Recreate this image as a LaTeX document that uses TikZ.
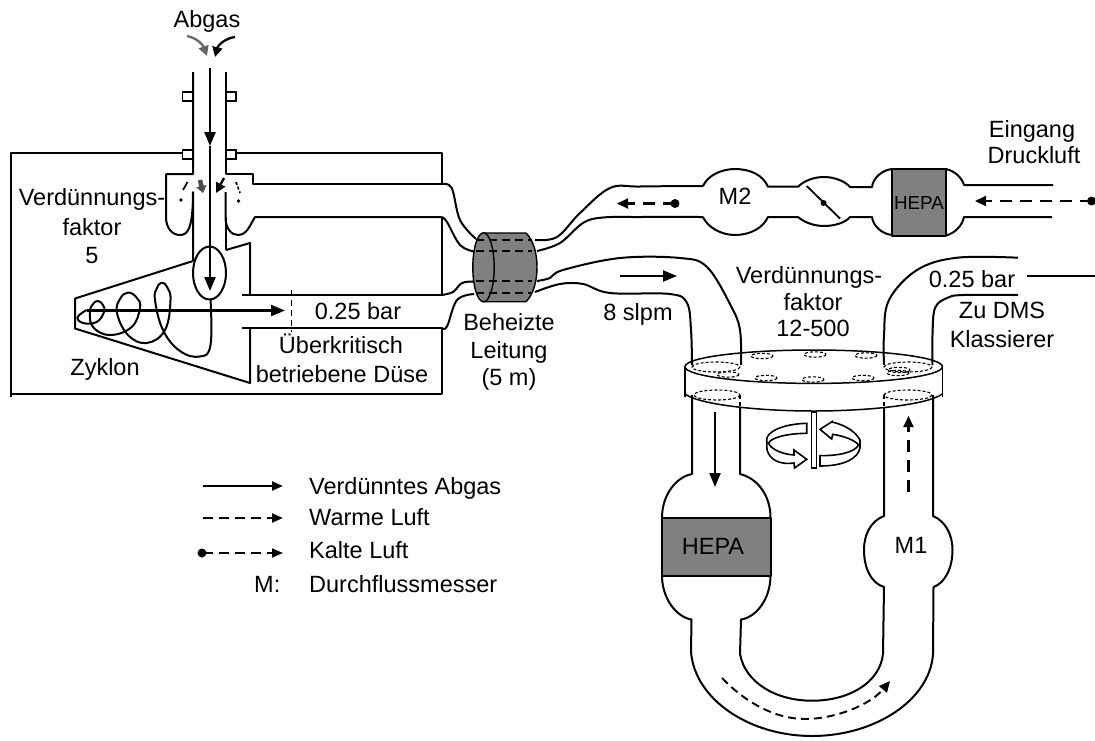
\documentclass[tikz,border=0pt]{standalone}
\usepackage{fontspec}
\setmainfont{Liberation Sans}
\usetikzlibrary{arrows.meta}
\definecolor{filtergrey}{HTML}{808080}
\tikzset{
  x=1pt,y=-1pt,
  pipe/.style={line width=2pt,line join=round},
  tipped/.style={line width=2.3pt,-{Triangle[length=14pt,width=11pt]}},
  dashedtip/.style={line width=2.2pt,dash pattern=on 12pt off 8pt,-{Triangle[length=11pt,width=10pt,sep=0pt]}},
  hole/.style={line width=1.1pt,dash pattern=on 3pt off 2pt},
  lab/.style={font=\fontsize{23.5}{26}\selectfont,inner sep=0pt,anchor=base,text=black},
  dotend/.style={fill=black,circle,inner sep=0pt,minimum size=9pt},
  sm/.style={smooth,tension=0.6},
}
\begin{document}
\begin{tikzpicture}
\useasboundingbox (0,0) rectangle (1095,740);
% Abgas arrows
\draw[line width=2.3pt,draw=black!60,-{Triangle[length=10pt,width=10pt]}] (187,36) .. controls (197,38) and (203,45) .. (207,56);
\draw[line width=2.3pt,-{Triangle[length=10pt,width=10pt]}] (235,37) .. controls (226,38) and (218,45) .. (215,57);
% Frame
\draw[pipe] (182,153) -- (11,153) -- (11,397);
\draw[pipe] (10,394) -- (441.7,394) -- (441.7,328);
\draw[pipe] (236,153) -- (441.7,153) -- (441.7,184);
\draw[pipe] (441.7,217) -- (441.7,295);
% Vertical tube
\draw[pipe] (193,72) -- (193,174) -- (166,174) -- (166,217) .. controls (166,228) and (172,235) .. (180,235) .. controls (188,235) and (193,228) .. (193,192) -- (193,261);
\draw[pipe] (225.5,72) -- (225.5,174) -- (253,174) -- (253,184) -- (441.7,184);
\draw[pipe] (225.5,192) -- (225.5,217) .. controls (225.5,228) and (231,235) .. (238,235) .. controls (247,235) and (250,225) .. (255,217) -- (441.7,217);
\draw[pipe] (225.5,217) -- (225.5,250);
% Flanges
\foreach \y in {92,150}{
  \draw[line width=1.8pt] (182.5,\y) rectangle (193,\y+9);
  \draw[line width=1.8pt] (225.5,\y) rectangle (236,\y+9);
}
% Dilution details
\draw[line width=1.7pt] (183,190) -- (187.5,182);
\fill (181,200) circle (1.8);
\fill (238.5,201) circle (1.8);
\draw[line width=1.7pt,dash pattern=on 3pt off 2pt] (236,182) -- (240,193);
\draw[line width=4.5pt,draw=black!70,-{Triangle[length=7pt,width=10pt]}] (200,180) -- (203,193);
\draw[line width=2.3pt,-{Triangle[length=10pt,width=10pt]}] (224,178) -- (216,193);
% Central arrow
\draw[tipped] (210,68) -- (210,146);
\draw[line width=2.3pt] (210,146) -- (210,220);
\draw[tipped] (210,220) -- (210,291);
% Cyclone
\draw[pipe] (193,261) -- (75,298.5) -- (75,328.5) -- (250,383) -- (250,328);
\draw[pipe] (226,250) -- (250,243) -- (250,295);
\draw[pipe] (242,295) -- (441.7,295);
\draw[pipe] (242,328) -- (441.7,328);
\draw[pipe] (209.5,273) ellipse (16.5 and 26.5);
\draw[pipe] plot[smooth,tension=0.7] coordinates {(210.5,299) (210.5,345) (200,356.5) (180,351) (163,330) (155,300) (157,288) (161.7,282.7) (167,287) (170.5,300) (165,330) (146.7,343) (128,335) (117,313) (120,299) (128,292.5) (137,298) (140,308) (131.7,327) (110,335) (93,327) (90,312) (93,304) (98,301) (103,305) (104,312) (96.7,322) (83,323) (77.7,317) (86.7,310)};
\draw[tipped] (86.7,310.5) -- (285,310.5);
\draw[line width=1.7pt,dash pattern=on 6pt off 4pt] (291.5,290) -- (291.5,332);
% Heated line pipes left
\draw[pipe] plot[sm] coordinates {(441.7,184) (451.7,188) (460,220) (476,239)};
\draw[pipe] plot[sm] coordinates {(441.7,217) (447,222) (460,245) (474,251.5)};
\draw[pipe] plot[sm] coordinates {(441.7,295) (453,292) (462,283) (474,281.5)};
\draw[pipe] plot[sm] coordinates {(441.7,328) (447,326.5) (457,300) (474,294)};
% Heated line cylinder
\draw[line width=1.4pt,fill=filtergrey] (483.5,233) -- (526,233) .. controls (533,240) and (537,252) .. (537,267) .. controls (537,282) and (533,295) .. (526,301.7) -- (483.5,301.7) -- cycle;
\draw[line width=1.4pt,fill=filtergrey] (483.5,267.3) ellipse (10.7 and 34.5);
\foreach \y in {240,251,281,293}
  \draw[line width=1.8pt,dash pattern=on 8pt off 5pt] (476,\y) -- (532,\y);
% Heated line pipes right
\draw[pipe] plot[sm] coordinates {(535,240) (557,237) (580,213) (610,188) (640,186.5) (703,186)};
\draw[pipe] plot[sm] coordinates {(537,251) (560,243) (583,223) (603,217.5) (640,217) (703,217)};
\draw[pipe] plot[sm] coordinates {(537,281) (550,278) (563,270) (620,258) (680,258) (707,267) (731,306) (740,330) (741,365)};
\draw[pipe] plot[sm] coordinates {(535,292) (560,284) (583,284) (610,293) (670,294) (687,303) (691,330) (692,365)};
\draw[tipped] (620,276) -- (677,276);
\draw[dashedtip] (675,203.5) -- (617,203.5);
\node[dotend] (d1) at (675,203.5) {};
% M2
\draw[pipe] (703,186) .. controls (708,175) and (722,169) .. (735,169) .. controls (750,169) and (763,175) .. (768,186.7) -- (798,186.7) .. controls (805,180) and (815,177) .. (824,177) .. controls (834,177) and (845,181) .. (850,187) -- (872,187) .. controls (873,178) and (882,170) .. (892,169);
\draw[pipe] (703,217) .. controls (708,228) and (722,235) .. (735,235) .. controls (750,235) and (763,228) .. (768,217) -- (798,217) .. controls (805,223) and (815,226) .. (824,226) .. controls (834,226) and (845,223) .. (850,217) -- (872,217) .. controls (873,226) and (882,234) .. (892,235);
\draw[line width=1.8pt] (806.7,186) -- (840,218.5);
\fill (823.5,203) circle (3);
% Inlet filter
\draw[pipe,fill=filtergrey] (892,169) rectangle (946,235.5);
\draw[pipe] (946,169) .. controls (955,171) and (962,178) .. (964,185) -- (1053,185);
\draw[pipe] (946,235.5) .. controls (955,233) and (962,226) .. (964,217) -- (1052,217);
\node[lab,font=\fontsize{18.8}{22}\selectfont] (hepa1) at (919,209) {HEPA};
\draw[dashedtip] (1091.5,201) -- (975,201);
\node[dotend] (d2) at (1091.5,201) {};
% Outlet to DMS
\draw[pipe] plot[sm] coordinates {(1018,257.7) (957,257.7) (917,270) (889,300) (884,335) (884,365)};
\draw[pipe] plot[sm] coordinates {(1018,295) (963,295) (947,298) (935,308) (932.5,335) (932.5,365)};
\draw[pipe] (1027,276) -- (1095,276);
% Plate
\draw[line width=1.5pt] (685,367) -- (685,397);
\draw[line width=1.5pt] (942.4,367) -- (942.4,397);
\draw[line width=1.5pt] (685,394) .. controls (700,405) and (760,411) .. (813.7,411) .. controls (867,411) and (927,405) .. (942.4,394);
\draw[line width=1.5pt] (813.7,366.7) ellipse (128.7 and 16.7);
\draw[hole] (716,367) ellipse (24 and 5);
\draw[hole] (908,367) ellipse (24 and 5);
\draw[hole] (717,395) ellipse (23 and 5);
\draw[hole] (908,395) ellipse (24 and 5);
\foreach \p in {(762,356),(815,354.5),(866,355.5),(728,374.5),(766,378),(813,379.5),(863,378),(898,373),(899,370)}
  \draw[hole] \p ellipse (11 and 2.7);
% Rotor
\draw[line width=1.5pt,fill=white] (811.5,412) rectangle (816.5,468);
\draw[line width=1.6pt,fill=white] (806.7,423.3) .. controls (782,424) and (767,432) .. (766.7,439.3) -- (767,450) .. controls (770,460) and (780,465) .. (794,463) -- (794.5,468) -- (806.7,459.3) -- (794,450) -- (794,455) .. controls (780,454) and (770,448) .. (768.5,443) .. controls (772,437) and (788,433.5) .. (806.7,433.3) -- cycle;
\draw[line width=1.6pt,fill=white] (820,466) .. controls (845,466) and (858,458) .. (860,448) -- (860,440) .. controls (855,431) and (845,425) .. (832,422) -- (832,421.7) -- (820,429.3) -- (831.7,439) -- (832.7,434.3) .. controls (845,436) and (856,441) .. (858.5,445) .. controls (855,452) and (840,455.7) .. (820,455.7) -- cycle;
% Tubes below plate
\draw[pipe] (692,395) -- (692,474) .. controls (676,477) and (662,495) .. (662,517.7);
\draw[pipe] (740,408) -- (740,474) .. controls (757,478) and (770.5,495) .. (770.5,517.7);
\draw[line width=1.7pt,dash pattern=on 4pt off 3pt] (740,395) -- (740,408);
\draw[line width=1.7pt,dash pattern=on 4pt off 3pt] (884,395) -- (884,408);
\draw[pipe,fill=filtergrey] (662,517.7) rectangle (770.5,575.7);
\draw[pipe] (662,575.7) .. controls (662,598) and (676,617) .. (691.5,619.5) -- (691,652) .. controls (695,700) and (750,736) .. (812,736) .. controls (875,736) and (930,700) .. (933,654) -- (933.5,587) .. controls (945,583) and (952.5,568) .. (952.5,550) .. controls (952.5,534) and (945,521) .. (933,516) -- (933,395);
\draw[pipe] (770.5,575.7) .. controls (770.5,598) and (757,617) .. (741,619.5) -- (740,654) .. controls (745,682) and (775,700.7) .. (812,700.7) .. controls (850,700.7) and (880,682) .. (883,654) -- (884,587) .. controls (871,583) and (864,568) .. (864,550) .. controls (864,534) and (871,521) .. (884,516) -- (884,408);
\draw[tipped] (715,412) -- (715,487);
\draw[dashedtip] (908.5,492) -- (908.5,416);
\draw[line width=1.9pt,dash pattern=on 8pt off 5pt,-{Triangle[length=11pt,width=10pt]}] (722,678) .. controls (745,702) and (775,719) .. (805,719) .. controls (835,719) and (870,705) .. (890,681);
% Legend
\draw[line width=2pt,-{Triangle[length=11pt,width=9pt]}] (203,486) -- (283,486);
\draw[line width=2pt,dash pattern=on 10pt off 6pt,-{Triangle[length=11pt,width=9pt]}] (203,518) -- (283,518);
\draw[line width=2pt,dash pattern=on 10pt off 6pt,-{Triangle[length=11pt,width=9pt]}] (203,553) -- (283,553);
\node[dotend] (d3) at (202,553) {};
% Labels
\node[lab] (abgas) at (207,27) {Abgas};
\node[lab] (v1a) at (92,205) {Verdünnungs-};
\node[lab] (v1b) at (92,235) {faktor};
\node[lab] (v1c) at (92,263) {5};
\node[lab] (bar1) at (358,319) {0.25 bar};
\node[lab] (ueb) at (341,353) {Überkritisch};
\node[lab] (dues) at (342,382) {betriebene Düse};
\node[lab] (zyk) at (105,375) {Zyklon};
\node[lab] (beh1) at (509,330) {Beheizte};
\node[lab] (beh2) at (509,358) {Leitung};
\node[lab] (beh3) at (509,385) {(5 m)};
\node[lab] (slpm) at (638,320) {8 slpm};
\node[lab] (m2) at (735,204) {M2};
\node[lab] (ein) at (1032,137) {Eingang};
\node[lab] (druck) at (1034,163) {Druckluft};
\node[lab] (v2a) at (809,283) {Verdünnungs-};
\node[lab] (v2b) at (813,310) {faktor};
\node[lab] (v2c) at (813,336) {12-500};
\node[lab] (bar2) at (972,287) {0.25 bar};
\node[lab] (zu) at (1002,318) {Zu DMS};
\node[lab] (kla) at (1002,347) {Klassierer};
\node[lab] (hepa2) at (713,554) {HEPA};
\node[lab] (m1) at (911,553) {M1};
\node[lab,anchor=base west] (le1) at (309,494) {Verdünntes Abgas};
\node[lab,anchor=base west] (le2) at (309,525) {Warme Luft};
\node[lab,anchor=base west] (le3) at (309,558) {Kalte Luft};
\node[lab,anchor=base west] (le4) at (254,592) {M:};
\node[lab,anchor=base west] (le5) at (309,592) {Durchflussmesser};
\end{tikzpicture}
\end{document}
